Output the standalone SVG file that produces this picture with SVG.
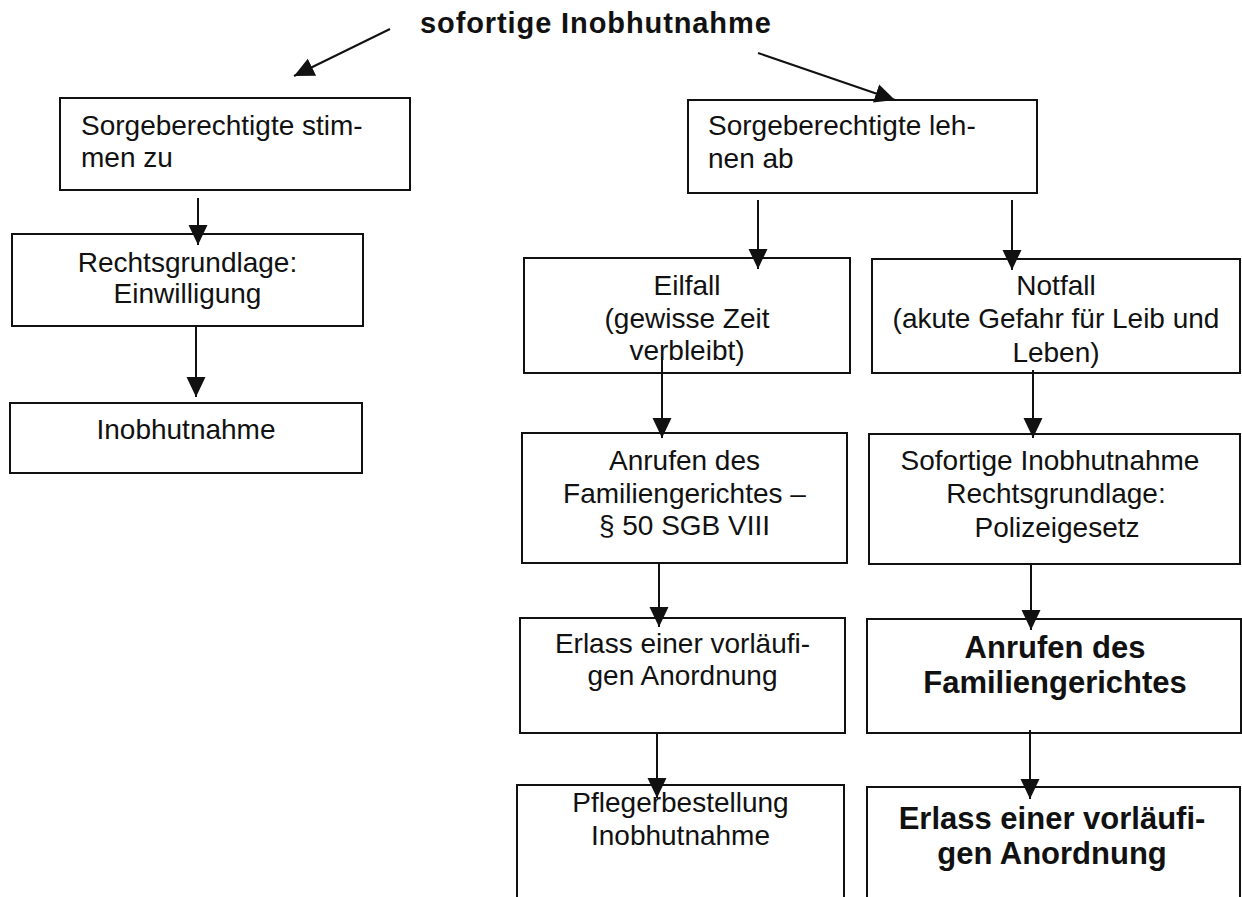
<svg xmlns="http://www.w3.org/2000/svg" width="1242" height="897" viewBox="0 0 1242 897">
<style>
.bg{fill:#ffffff}
.box{fill:#ffffff;stroke:#111111;stroke-width:2}
.t{font-family:"Liberation Sans",Arial,Helvetica,sans-serif;font-size:28px;fill:#111111}
.c{text-anchor:middle}
.b{font-weight:bold;font-size:31px}
.title{font-family:"Liberation Sans",Arial,Helvetica,sans-serif;font-weight:bold;font-size:29px;letter-spacing:0.9px;fill:#111111}
.con{stroke:#111111;stroke-width:2;fill:none;marker-end:url(#ah)}
</style>
<defs>
<marker id="ah" markerUnits="userSpaceOnUse" viewBox="0 0 20 20" markerWidth="20" markerHeight="20" refX="20" refY="10" orient="auto">
<path d="M0,0.5 L20,10 L0,19.5 z" fill="#111111"/>
</marker>
</defs>
<rect class="bg" x="0" y="0" width="1242" height="897"/>

<g id="title">
<text class="title" x="420" y="33">sofortige Inobhutnahme</text>
</g>

<g id="n-zustimmung">
<rect class="box" x="60" y="98" width="350" height="92"/>
<text class="t" x="81" y="135">Sorgeberechtigte stim-</text>
<text class="t" x="81" y="167">men zu</text>
</g>

<g id="n-einwilligung">
<rect class="box" x="12" y="234" width="351" height="92"/>
<text class="t c" x="187.5" y="272">Rechtsgrundlage:</text>
<text class="t c" x="187.5" y="303">Einwilligung</text>
</g>

<g id="n-inobhutnahme-links">
<rect class="box" x="10" y="403" width="352" height="70"/>
<text class="t c" x="186" y="439">Inobhutnahme</text>
</g>

<g id="n-ablehnung">
<rect class="box" x="688" y="100" width="349" height="93"/>
<text class="t" x="708" y="135">Sorgeberechtigte leh-</text>
<text class="t" x="708" y="168">nen ab</text>
</g>

<g id="n-eilfall">
<rect class="box" x="524" y="258" width="326" height="115"/>
<text class="t c" x="687" y="295">Eilfall</text>
<text class="t c" x="687" y="328">(gewisse Zeit</text>
<text class="t c" x="687" y="360">verbleibt)</text>
</g>

<g id="n-notfall">
<rect class="box" x="872" y="259" width="368" height="114"/>
<text class="t c" x="1056" y="295">Notfall</text>
<text class="t c" x="1056" y="328">(akute Gefahr für Leib und</text>
<text class="t c" x="1056" y="362">Leben)</text>
</g>

<g id="n-anrufen-links">
<rect class="box" x="522" y="433" width="325" height="130"/>
<text class="t c" x="684.5" y="470">Anrufen des</text>
<text class="t c" x="684.5" y="503">Familiengerichtes –</text>
<text class="t c" x="684.5" y="535">§ 50 SGB VIII</text>
</g>

<g id="n-sofortige">
<rect class="box" x="869" y="434" width="371" height="130"/>
<text class="t c" x="1050" y="470">Sofortige Inobhutnahme</text>
<text class="t c" x="1056" y="503">Rechtsgrundlage:</text>
<text class="t c" x="1057" y="537">Polizeigesetz</text>
</g>

<g id="n-erlass-links">
<rect class="box" x="520" y="618" width="325" height="115"/>
<text class="t c" x="682.5" y="653">Erlass einer vorläufi-</text>
<text class="t c" x="682.5" y="685">gen Anordnung</text>
</g>

<g id="n-anrufen-rechts">
<rect class="box" x="867" y="619" width="374" height="114"/>
<text class="t c b" x="1055" y="658">Anrufen des</text>
<text class="t c b" x="1055" y="693">Familiengerichtes</text>
</g>

<g id="n-pfleger">
<path class="box" d="M517,905 L517,785 L844,785 L844,905"/>
<text class="t c" x="680.5" y="812">Pflegerbestellung</text>
<text class="t c" x="680.5" y="845">Inobhutnahme</text>
</g>

<g id="n-erlass-rechts">
<path class="box" d="M867,905 L867,787 L1240,787 L1240,905"/>
<text class="t c b" x="1052" y="829">Erlass einer vorläufi-</text>
<text class="t c b" x="1052" y="864">gen Anordnung</text>
</g>

<g id="connectors">
<line class="con" x1="390" y1="29" x2="294" y2="76"/>
<line class="con" x1="758" y1="53" x2="895" y2="100"/>
<line class="con" x1="198" y1="198" x2="198" y2="245"/>
<line class="con" x1="196" y1="327" x2="196" y2="397"/>
<line class="con" x1="758" y1="200" x2="758" y2="269"/>
<line class="con" x1="1012" y1="200" x2="1012" y2="270"/>
<line class="con" x1="662" y1="357" x2="662" y2="438"/>
<line class="con" x1="1033" y1="370" x2="1033" y2="438"/>
<line class="con" x1="659" y1="563" x2="659" y2="627"/>
<line class="con" x1="1031" y1="565" x2="1031" y2="630"/>
<line class="con" x1="657" y1="733" x2="657" y2="798"/>
<line class="con" x1="1030" y1="730" x2="1030" y2="799"/>
</g>
</svg>
